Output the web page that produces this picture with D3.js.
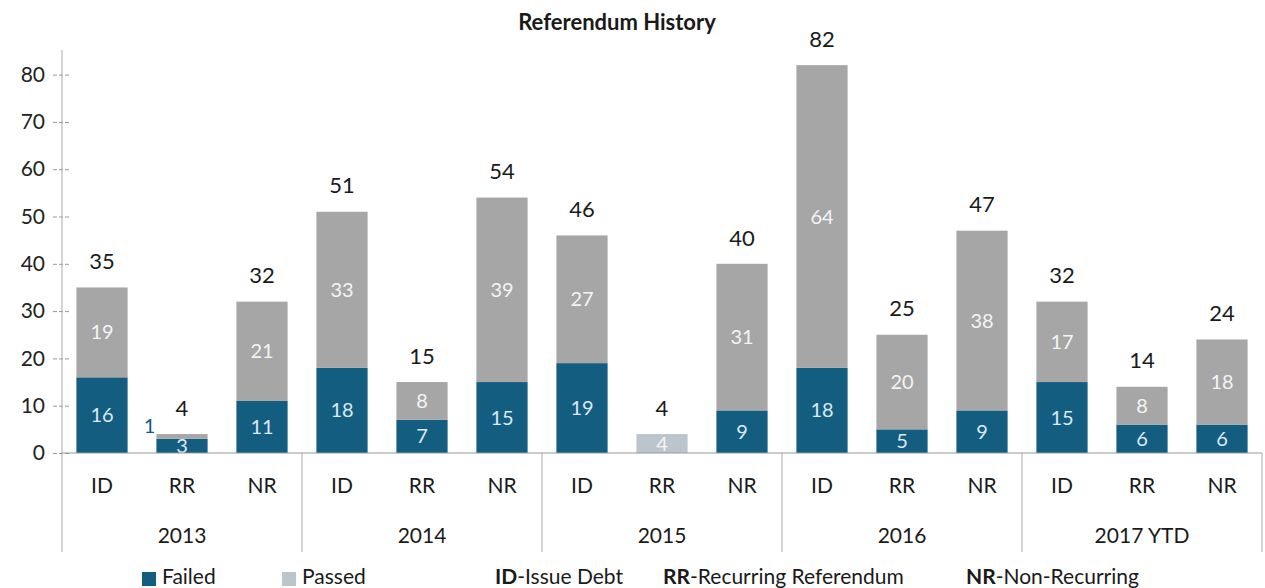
<!DOCTYPE html>
<html lang="en">
<head>
<meta charset="UTF-8">
<title>Referendum History</title>
<script src="https://d3js.org/d3.v7.min.js"></script>
<style>
  body { margin: 0; background: #fff; }
  svg text { font-family: 'Lato', sans-serif; }
</style>
</head>
<body>
<div id="chart"></div>
<script>

// values, in the order 2013 ID, RR, NR, 2014 ID, ...
var years = ["2013", "2014", "2015", "2016", "2017 YTD"];
var types = ["ID", "RR", "NR"];
var failed = [16, 3, 11, 18, 7, 15, 19, 0, 9, 18, 5, 9, 15, 6, 6];
var passed = [19, 1, 21, 33, 8, 39, 27, 4, 31, 64, 20, 38, 17, 8, 18];
var yTicks = [0, 10, 20, 30, 40, 50, 60, 70, 80];

var failedColor = "#135d80",
    passedColor = "#a6a6a6",
    passedLight = "#bcc5cb";

var rows = [];
years.forEach(function (yr, i) {
  types.forEach(function (t, j) {
    rows.push({ key: yr + "|" + t, year: yr, type: t,
      Failed: failed[i * 3 + j], Passed: passed[i * 3 + j] });
  });
});

var svg = d3.select("#chart").append("svg")
  .attr("width", 1265)
  .attr("height", 588);

var x0 = 62, x1 = 1262, yBase = 453;

var x = d3.scaleBand()
  .domain(rows.map(function (d) { return d.key; }))
  .range([x0, x1])
  .paddingInner(0.36)
  .paddingOuter(0.18);

var y = d3.scaleLinear()
  .domain([0, 80])
  .range([yBase, yBase - 80 * 4.73]);

var stack = d3.stack().keys(["Failed", "Passed"]);
var series = stack(rows);

// title
svg.append("text")
  .attr("x", 617).attr("y", 30)
  .attr("text-anchor", "middle")
  .style("font-size", "22px")
  .style("font-weight", "bold")
  .style("fill", "#1a1a1a")
  .text("Referendum History");

// y axis
var yAxis = d3.axisLeft(y).tickValues(yTicks).tickSize(0).tickPadding(17);
var yg = svg.append("g")
  .attr("transform", "translate(" + x0 + ",0)")
  .call(yAxis);
yg.select(".domain").remove();
yg.selectAll("text")
  .style("font-size", "21px")
  .style("fill", "#222");
yg.selectAll(".tick").append("line")
  .attr("x1", -9).attr("x2", 8)
  .attr("stroke", "#999")
  .attr("stroke-dasharray", "4,2");

svg.append("line")
  .attr("x1", x0).attr("x2", x0)
  .attr("y1", 50).attr("y2", yBase)
  .attr("stroke", "#aaa");

// bars
svg.append("defs").append("clipPath").attr("id", "plot")
  .append("rect").attr("x", x0).attr("y", 0)
  .attr("width", x1 - x0).attr("height", yBase);

var layers = svg.append("g").selectAll("g")
  .data(series)
  .join("g");

layers.selectAll("rect")
  .data(function (s) { return s.map(function (d) { d.series = s.key; return d; }); })
  .join("rect")
  .attr("x", function (d) { return x(d.data.key); })
  .attr("y", function (d) { return y(d[1]); })
  .attr("width", x.bandwidth())
  .attr("height", function (d) { return y(d[0]) - y(d[1]); })
  .attr("fill", function (d) {
    if (d.series === "Failed") return failedColor;
    return d[0] === 0 ? passedLight : passedColor;
  });

// segment labels
var segLabels = svg.append("g").attr("clip-path", "url(#plot)");
series.forEach(function (s) {
  s.forEach(function (d) {
    var v = d[1] - d[0];
    if (v <= 0) return;
    var h = y(d[0]) - y(d[1]);
    var t = segLabels.append("text")
      .style("font-size", "20px")
      .attr("dy", "0.35em")
      .text(v);
    if (h < 12) {
      t.attr("x", x(d.data.key) - 1)
        .attr("y", y(d[1]) - 8)
        .attr("text-anchor", "end")
        .style("fill", failedColor);
    } else {
      t.attr("x", x(d.data.key) + x.bandwidth() / 2)
        .attr("y", (y(d[0]) + y(d[1])) / 2)
        .attr("text-anchor", "middle")
        .style("fill", s.key === "Failed" ? "#dce9f0" : "#f4f4f4");
    }
  });
});

// totals
svg.append("g").selectAll("text")
  .data(rows)
  .join("text")
  .attr("x", function (d) { return x(d.key) + x.bandwidth() / 2; })
  .attr("y", function (d) { return y(d.Failed + d.Passed) - 26; })
  .attr("dy", "0.35em")
  .attr("text-anchor", "middle")
  .style("font-size", "22px")
  .style("fill", "#1a1a1a")
  .text(function (d) { return d.Failed + d.Passed; });

// x axis with grouped labels
svg.append("line")
  .attr("x1", x0).attr("x2", x1)
  .attr("y1", yBase).attr("y2", yBase)
  .attr("stroke", "#999");

svg.append("g").selectAll("text")
  .data(rows)
  .join("text")
  .attr("x", function (d) { return x(d.key) + x.bandwidth() / 2; })
  .attr("y", 486)
  .attr("dy", "0.35em")
  .attr("text-anchor", "middle")
  .style("font-size", "21px")
  .style("fill", "#1a1a1a")
  .text(function (d) { return d.type; });

var groupW = (x1 - x0) / years.length;
svg.append("g").selectAll("text")
  .data(years)
  .join("text")
  .attr("x", function (d, i) { return x0 + groupW * (i + 0.5); })
  .attr("y", 536)
  .attr("dy", "0.35em")
  .attr("text-anchor", "middle")
  .style("font-size", "21px")
  .style("fill", "#1a1a1a")
  .text(function (d) { return d; });

svg.append("g").selectAll("line")
  .data(d3.range(years.length + 1))
  .join("line")
  .attr("x1", function (i) { return x0 + groupW * i; })
  .attr("x2", function (i) { return x0 + groupW * i; })
  .attr("y1", yBase)
  .attr("y2", 552)
  .attr("stroke", "#aaa");

// legend
var legend = [
  { label: "Failed", color: failedColor, x: 142 },
  { label: "Passed", color: passedLight, x: 282 }
];
var lg = svg.append("g").selectAll("g")
  .data(legend)
  .join("g")
  .attr("transform", function (d) { return "translate(" + d.x + ",577)"; });
lg.append("rect")
  .attr("x", 0).attr("y", -5)
  .attr("width", 14).attr("height", 14)
  .attr("fill", function (d) { return d.color; });
lg.append("text")
  .attr("x", 20).attr("dy", "0.35em")
  .style("font-size", "21px")
  .style("fill", "#1a1a1a")
  .text(function (d) { return d.label; });

var notes = [
  { abbr: "ID", text: "-Issue Debt", x: 495 },
  { abbr: "RR", text: "-Recurring Referendum", x: 663 },
  { abbr: "NR", text: "-Non-Recurring", x: 966 }
];
var nt = svg.append("g").selectAll("text")
  .data(notes)
  .join("text")
  .attr("x", function (d) { return d.x; })
  .attr("y", 577)
  .attr("dy", "0.35em")
  .style("font-size", "21px")
  .style("fill", "#1a1a1a");
nt.append("tspan").style("font-weight", "bold").text(function (d) { return d.abbr; });
nt.append("tspan").text(function (d) { return d.text; });

</script>
</body>
</html>
